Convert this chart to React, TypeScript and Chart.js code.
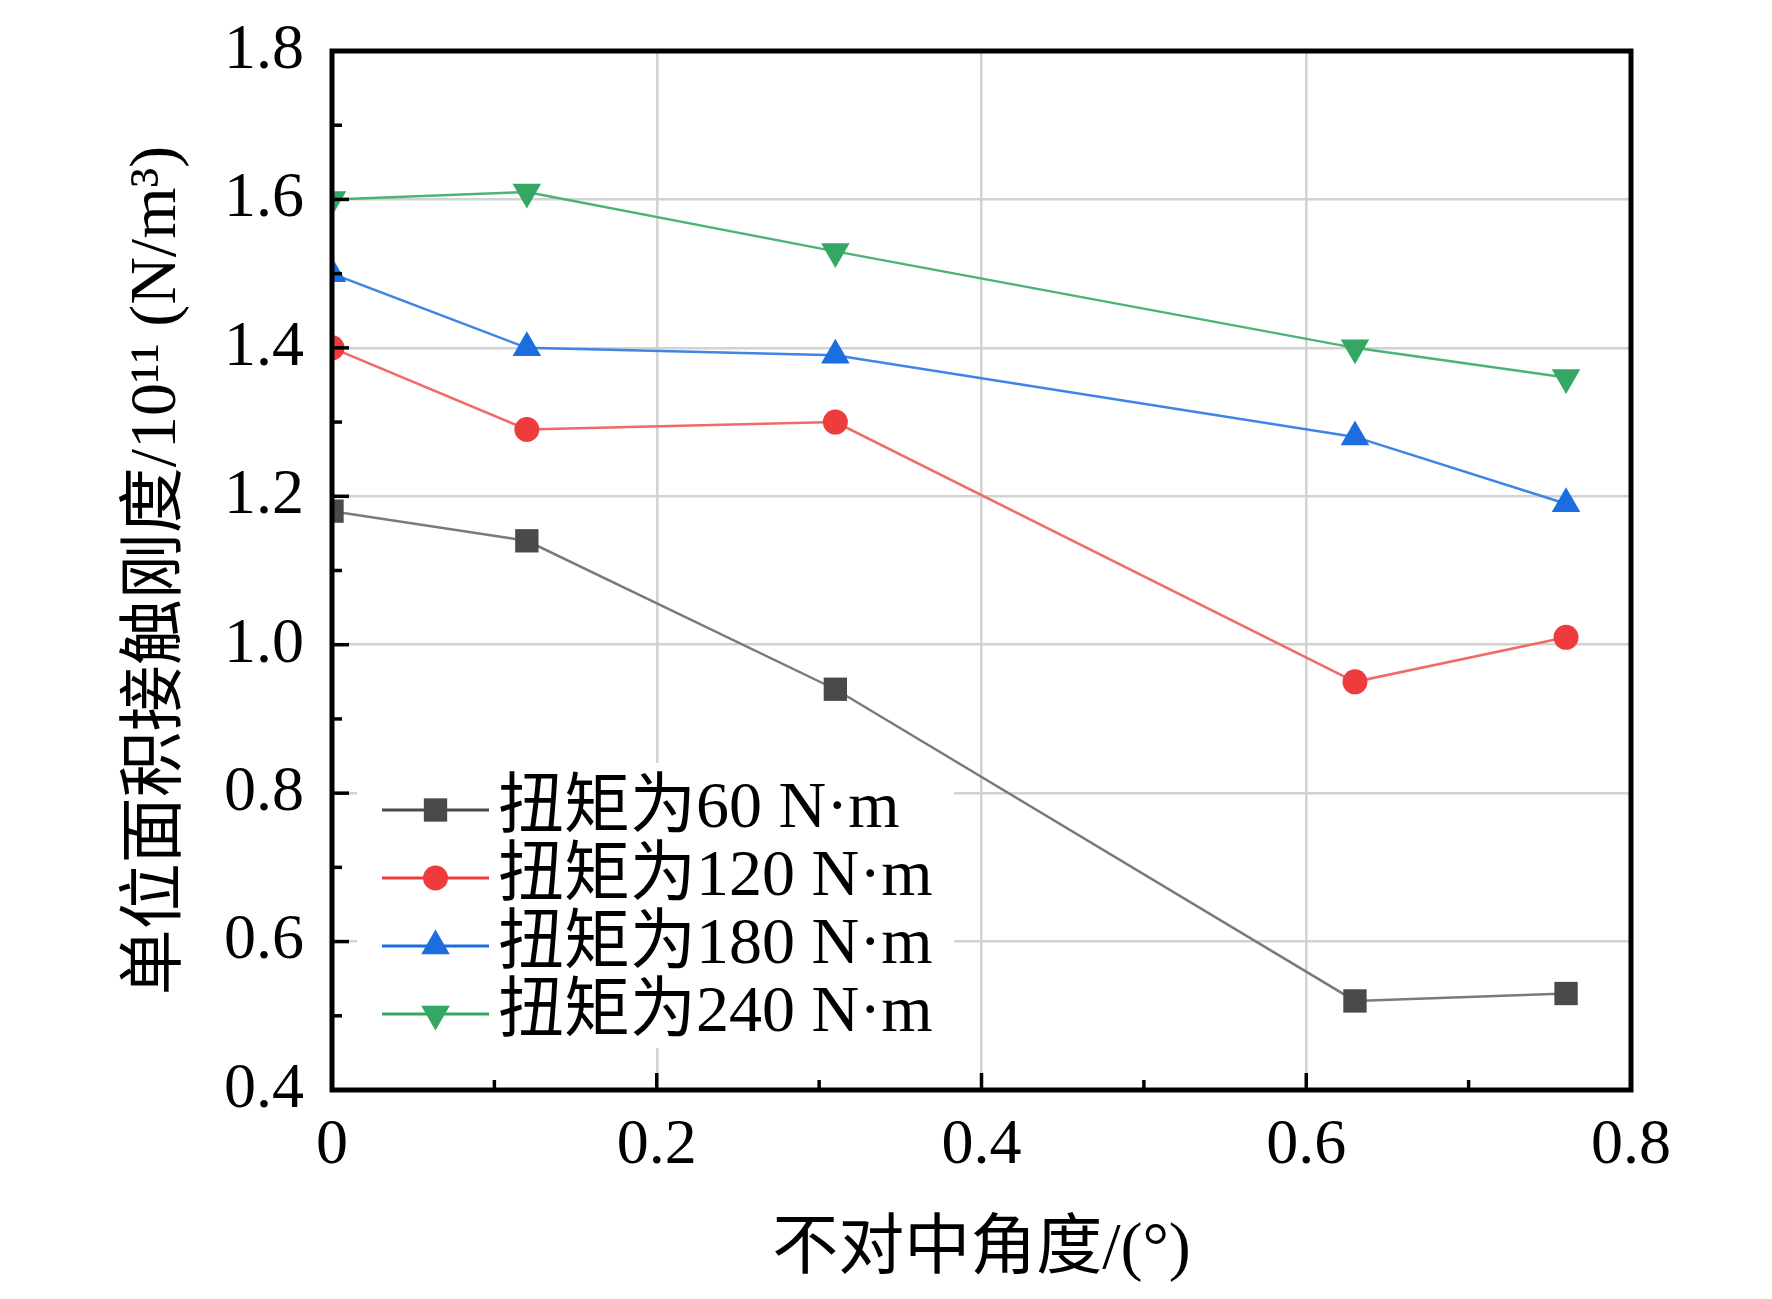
import React, { useEffect, useRef } from 'react';
import { Chart, registerables } from 'chart.js';

Chart.register(...registerables);

// ---------- data ----------
const angles = [0, 0.12, 0.31, 0.63, 0.76];
const torque60 = [1.18, 1.14, 0.94, 0.52, 0.53];
const torque120 = [1.40, 1.29, 1.30, 0.95, 1.01];
const torque180 = [1.50, 1.40, 1.39, 1.28, 1.19];
const torque240 = [1.60, 1.61, 1.53, 1.40, 1.36];
const seriesLabels = ['扭矩为60 N·m', '扭矩为120 N·m', '扭矩为180 N·m', '扭矩为240 N·m'];
const xTicks = [0, 0.2, 0.4, 0.6, 0.8];
const xMinorTicks = [0.1, 0.3, 0.5, 0.7];
const yTicks = [0.4, 0.6, 0.8, 1.0, 1.2, 1.4, 1.6, 1.8];
const yMinorTicks = [0.5, 0.7, 0.9, 1.1, 1.3, 1.5, 1.7];
const xTitle = '不对中角度/(°)';
const yTitle = '单位面积接触刚度/10¹¹ (N/m³)';

// ---------- styles ----------
const FONT = '"Liberation Serif", "Noto Sans CJK SC", serif';
const markerColors = ['#4a4a4a', '#ee3b3b', '#1c6de0', '#34a862'];
const lineColors = ['#7a7a7a', '#f06a6a', '#3f84e6', '#4cb377'];
const pointStyles = ['rect', 'circle', 'triangle', 'triangle'];
const pointRotations = [0, 0, 0, 180];
const pointRadii = [16.5, 12.5, 16.5, 16.5];

function drawMarker(ctx: CanvasRenderingContext2D, style: string, rot: number, r: number, x: number, y: number, color: string) {
  ctx.save();
  ctx.fillStyle = color;
  ctx.beginPath();
  if (style === 'rect') {
    const s = Math.SQRT1_2 * r;
    ctx.rect(x - s, y - s, 2 * s, 2 * s);
  } else if (style === 'circle') {
    ctx.arc(x, y, r, 0, Math.PI * 2);
  } else {
    const a0 = (rot * Math.PI) / 180;
    for (let k = 0; k < 3; k++) {
      const a = a0 + (k * 2 * Math.PI) / 3;
      const px = x + Math.sin(a) * r;
      const py = y - Math.cos(a) * r;
      if (k === 0) ctx.moveTo(px, py);
      else ctx.lineTo(px, py);
    }
    ctx.closePath();
  }
  ctx.fill();
  ctx.restore();
}

const legendPlugin = {
  id: 'customLegend',
  afterDatasetsDraw(chart: any) {
    const { ctx, chartArea } = chart;
    const bx = chartArea.left + 25;
    const by = chartArea.top + 712;
    ctx.save();
    ctx.fillStyle = '#ffffff';
    ctx.fillRect(bx, by, 597, 285);
    const rowY0 = chartArea.top + 759;
    const rowStep = 68;
    seriesLabels.forEach((label, i) => {
      const y = rowY0 + i * rowStep;
      const x1 = chartArea.left + 50;
      const x2 = chartArea.left + 157;
      ctx.strokeStyle = markerColors[i];
      ctx.lineWidth = 3;
      ctx.beginPath();
      ctx.moveTo(x1, y);
      ctx.lineTo(x2, y);
      ctx.stroke();
      drawMarker(ctx, pointStyles[i], pointRotations[i], pointRadii[i], (x1 + x2) / 2, y, markerColors[i]);
      ctx.fillStyle = '#000';
      ctx.font = `66px ${FONT}`;
      ctx.textBaseline = 'middle';
      ctx.textAlign = 'left';
      ctx.fillText(label, chartArea.left + 166, y);
    });
    ctx.restore();
  },
};

const framePlugin = {
  id: 'frame',
  afterDraw(chart: any) {
    const { ctx, chartArea, scales } = chart;
    const { left, right, top, bottom } = chartArea;
    ctx.save();
    ctx.strokeStyle = '#000';
    ctx.lineCap = 'butt';
    const tick = (len: number, w: number, isX: boolean, v: number) => {
      ctx.lineWidth = w;
      ctx.beginPath();
      if (isX) {
        const px = scales.x.getPixelForValue(v);
        ctx.moveTo(px, bottom);
        ctx.lineTo(px, bottom - len);
      } else {
        const py = scales.y.getPixelForValue(v);
        ctx.moveTo(left, py);
        ctx.lineTo(left + len, py);
      }
      ctx.stroke();
    };
    xTicks.forEach((v) => tick(17, 3.5, true, v));
    xMinorTicks.forEach((v) => tick(10, 3.5, true, v));
    yTicks.forEach((v) => tick(17, 3.5, false, v));
    yMinorTicks.forEach((v) => tick(10, 3.5, false, v));
    ctx.lineWidth = 5;
    ctx.strokeRect(left, top, right - left, bottom - top);
    ctx.restore();
  },
};

export default function App() {
  const canvasRef = useRef<HTMLCanvasElement | null>(null);

  useEffect(() => {
    const canvas = canvasRef.current;
    if (!canvas) return;
    const series = [torque60, torque120, torque180, torque240];
    const chart = new Chart(canvas, {
      type: 'line',
      data: {
        datasets: series.map((vals, i) => ({
          label: seriesLabels[i],
          data: angles.map((x, j) => ({ x, y: vals[j] })),
          borderColor: lineColors[i],
          backgroundColor: markerColors[i],
          borderWidth: 2.5,
          pointStyle: pointStyles[i] as any,
          pointRotation: pointRotations[i],
          pointRadius: pointRadii[i],
          pointBackgroundColor: markerColors[i],
          pointBorderColor: markerColors[i],
          pointBorderWidth: 0,
          tension: 0,
          clip: 0,
        })),
      },
      options: {
        animation: false,
        responsive: true,
        maintainAspectRatio: false,
        devicePixelRatio: 1,
        layout: { padding: { top: 51, right: 141, left: 0, bottom: 0 } },
        plugins: { legend: { display: false }, tooltip: { enabled: false } },
        scales: {
          x: {
            type: 'linear',
            min: 0,
            max: 0.8,
            afterBuildTicks: (s: any) => {
              s.ticks = xTicks.map((v) => ({ value: v }));
            },
            afterFit: (s: any) => {
              s.height = 209;
              s.paddingLeft = 0;
              s.paddingRight = 0;
            },
            ticks: {
              padding: 18,
              color: '#000',
              font: { family: FONT, size: 64 },
              callback: (v: any) => (Number(v) === 0 ? '0' : Number(v).toFixed(1)),
            },
            grid: { color: '#d2d2d2', lineWidth: 2.5, drawTicks: false },
            border: { display: false },
            title: {
              display: true,
              text: xTitle,
              color: '#000',
              font: { family: FONT, size: 66 },
              padding: { top: 0, bottom: 9 },
            },
          },
          y: {
            type: 'linear',
            min: 0.4,
            max: 1.8,
            afterBuildTicks: (s: any) => {
              s.ticks = yTicks.map((v) => ({ value: v }));
            },
            afterFit: (s: any) => {
              s.width = 332;
              s.paddingTop = 0;
              s.paddingBottom = 0;
            },
            ticks: {
              padding: 28,
              color: '#000',
              font: { family: FONT, size: 64 },
              callback: (v: any) => Number(v).toFixed(1),
            },
            grid: { color: '#d2d2d2', lineWidth: 2.5, drawTicks: false },
            border: { display: false },
            title: {
              display: true,
              text: yTitle,
              color: '#000',
              font: { family: FONT, size: 66 },
              padding: { top: 118, bottom: 0 },
            },
          },
        },
      },
      plugins: [legendPlugin, framePlugin],
    } as any);
    return () => chart.destroy();
  }, []);

  return (
    <div style={{ position: 'absolute', left: 0, top: 0, width: 1772, height: 1299, background: '#fff' }}>
      <canvas ref={canvasRef} />
    </div>
  );
}
